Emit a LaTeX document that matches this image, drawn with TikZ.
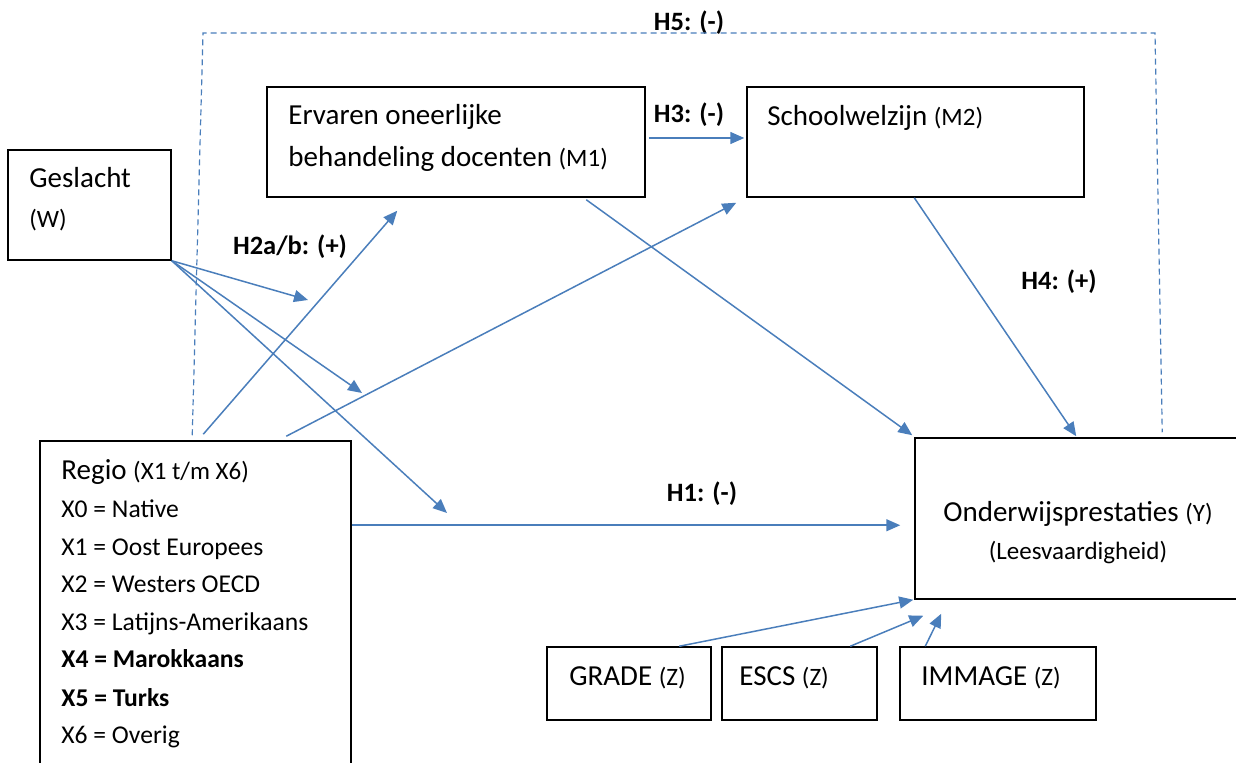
\documentclass[tikz,border=0pt]{standalone}
\usepackage{fontspec}
\setmainfont{Carlito}
\usetikzlibrary{arrows.meta,calc}
\definecolor{linkblue}{HTML}{4A7EBB}
\newcommand{\paren}[1]{{\fontsize{12.5}{15}\selectfont #1}}
\begin{document}
\begin{tikzpicture}[x=0.5pt, y=-0.5pt, font=\fontsize{14.5}{17}\selectfont,
    >={Triangle[length=7pt,width=6pt]},
    box/.style={draw, line width=0.75pt, inner sep=0pt},
    txt/.style={anchor=base west, inner sep=0pt},
    lst/.style={anchor=base west, inner sep=0pt, font=\fontsize{12.8}{16}\selectfont},
    lbl/.style={anchor=base, inner sep=0pt, font=\fontsize{13.25}{16}\selectfont\bfseries},
    link/.style={->, draw=linkblue, line width=0.75pt},
    hfive/.style={draw=linkblue, line width=0.6pt, dash pattern=on 3pt off 2pt}]
    \useasboundingbox (0,0) rectangle (1236,763);
    % boxes
    \node[box, minimum width=81.5pt, minimum height=55pt] (gesl) at (89.5,205) {};
    \node[box, minimum width=189pt, minimum height=55pt] (m1) at (456,142) {};
    \node[box, minimum width=168.5pt, minimum height=55pt] (m2) at (915.5,142) {};
    \node[box, minimum width=162.5pt, minimum height=80.5pt] (y) at (1077.5,518.5) {};
    \node[box, minimum width=155.5pt, minimum height=163.5pt] (regio) at (195.5,604.5) {};
    \node[box, minimum width=82pt, minimum height=36.5pt] (grade) at (629,683.5) {};
    \node[box, minimum width=77.5pt, minimum height=36.5pt] (escs) at (799.5,683.5) {};
    \node[box, minimum width=98pt, minimum height=36.5pt] (immage) at (998,683.5) {};
    % texts
    \node[txt] (geslt) at (29,188) {Geslacht};
    \node[txt] (geslw) at (29,228) {\paren{(W)}};
    \node[txt] (m1a) at (288,125) {Ervaren oneerlijke};
    \node[txt] (m1b) at (288,167) {behandeling docenten \paren{(M1)}};
    \node[txt] (m2a) at (767,126) {Schoolwelzijn \paren{(M2)}};
    \node[anchor=base, inner sep=0pt] (ya) at (1078,522) {Onderwijsprestaties \paren{(Y)}};
    \node[anchor=base, inner sep=0pt] (yb) at (1078,560) {\paren{(Leesvaardigheid)}};
    \node[txt] (r0) at (61,480) {Regio \paren{(X1 t/m X6)}};
    \node[lst] (r1) at (61,518) {X0 = Native};
    \node[lst] (r2) at (61,556) {X1 = Oost Europees};
    \node[lst] (r3) at (61,593) {X2 = Westers OECD};
    \node[lst] (r4) at (61,631) {X3 = Latijns-Amerikaans};
    \node[lst] (r5) at (61,668) {\bfseries X4 = Marokkaans};
    \node[lst] (r6) at (61,706) {\bfseries X5 = Turks};
    \node[lst] (r7) at (61,743) {X6 = Overig};
    \node[txt] (gradet) at (569,685) {GRADE \paren{(Z)}};
    \node[txt] (escst) at (739,685) {ESCS \paren{(Z)}};
    \node[txt] (immaget) at (921,685) {IMMAGE \paren{(Z)}};
    % hypotheses
    \node[lbl] (h5) at (689,31) {H5: (-)};
    \node[lbl] (h3) at (689,123) {H3: (-)};
    \node[lbl] (h2) at (290,255) {H2a/b: (+)};
    \node[lbl] (h4) at (1059,290) {H4: (+)};
    \node[lbl] (h1) at (702,502) {H1: (-)};
    % moderation ends and H5 corners
    \coordinate (w1) at (308,300);
    \coordinate (w2) at (362,393);
    \coordinate (w3) at (447,513);
    \coordinate (h5l) at (203,33);
    \coordinate (h5r) at (1155,33);
    % connectors
    \draw[hfive] ($(regio.north west)+(153,-5)$) -- (h5l) -- (h5r) -- ($(y.north west)+(248,-5)$);
    \draw[link] (gesl.south east) -- (w1);
    \draw[link] (gesl.south east) -- (w2);
    \draw[link] (gesl.south east) -- (w3);
    \draw[link] ($(regio.north west)+(164,-6)$) -- ($(m1.south west)+(131,13)$);
    \draw[link] ($(regio.north west)+(247,-4)$) -- ($(m2.south west)+(-10,5)$);
    \draw[link] ($(regio.north east)+(0,85)$) -- ($(y.north west)+(-14,88)$);
    \draw[link] ($(m1.east)+(3,-4)$) -- ($(m2.west)+(-2,-4)$);
    \draw[link] ($(m1.south west)+(320,2)$) -- ($(y.north west)+(-2,-2)$);
    \draw[link] ($(m2.south west)+(168,0)$) -- ($(y.north west)+(162,-1)$);
    \draw[link] ($(grade.north west)+(133,0)$) -- ($(y.south west)+(-1,0)$);
    \draw[link] ($(escs.north west)+(129,0)$) -- ($(y.south west)+(9,16)$);
    \draw[link] ($(immage.north west)+(26,0)$) -- ($(y.south west)+(27,14)$);
\end{tikzpicture}
\end{document}
